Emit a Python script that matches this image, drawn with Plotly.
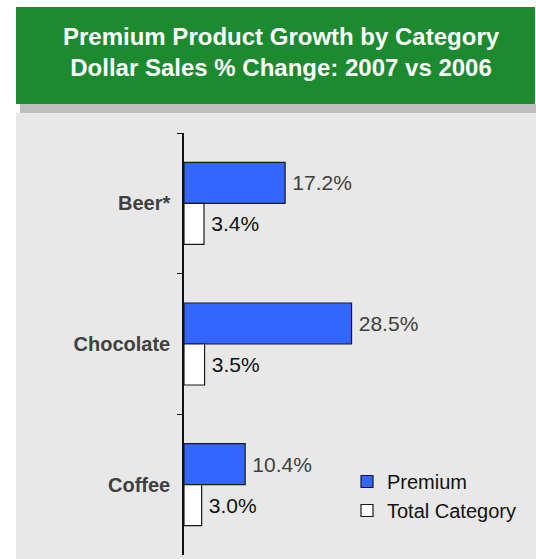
import plotly.graph_objects as go

W, H = 536, 559

categories = ["Beer*", "Chocolate", "Coffee"]
premium = [17.2, 28.5, 10.4]
total_category = [3.4, 3.5, 3.0]
premium_labels = ["17.2%", "28.5%", "10.4%"]
total_labels = ["3.4%", "3.5%", "3.0%"]
title_lines = ["Premium Product Growth by Category", "Dollar Sales % Change: 2007 vs 2006"]

FONT = "Arial, 'Liberation Sans', sans-serif"

def px(x):
    return x / W

def py(y):
    return 1 - y / H

fig = go.Figure()
fig.add_trace(go.Bar(
    y=categories, x=premium, orientation="h", name="Premium",
    marker=dict(color="#3366FF", line=dict(color="#1a1a1a", width=1.2)),
    text=premium_labels, texttemplate="\u2009%{text}", textposition="outside", cliponaxis=False,
    textfont=dict(family=FONT, size=21, color="#404040"),
))
fig.add_trace(go.Bar(
    y=categories, x=total_category, orientation="h", name="Total Category",
    marker=dict(color="#FFFFFF", line=dict(color="#1a1a1a", width=1.2)),
    text=total_labels, texttemplate="\u2009%{text}", textposition="outside", cliponaxis=False,
    textfont=dict(family=FONT, size=21, color="#111111"),
))

shapes = [
    dict(type="rect", xref="paper", yref="paper", x0=px(16), x1=1, y0=0, y1=py(113),
         fillcolor="#E8E8E8", line=dict(width=0), layer="below"),
    dict(type="rect", xref="paper", yref="paper", x0=px(20), x1=1, y0=py(113), y1=py(104),
         fillcolor="#BFBFBF", line=dict(width=0), layer="below"),
    dict(type="rect", xref="paper", yref="paper", x0=px(16), x1=px(535), y0=py(104), y1=py(7),
         fillcolor="#1C8A2F", line=dict(width=0), layer="below"),
]

fig.update_layout(
    width=W, height=H,
    margin=dict(l=0, r=0, t=0, b=0),
    paper_bgcolor="white",
    plot_bgcolor="rgba(0,0,0,0)",
    font=dict(family=FONT, color="#111111"),
    barmode="group",
    bargap=0.417,
    bargroupgap=0,
    shapes=shapes,
    showlegend=True,
    legend=dict(
        x=px(347), y=py(462), xanchor="left", yanchor="top",
        bgcolor="rgba(0,0,0,0)", font=dict(family=FONT, size=20, color="#111111"),
        tracegroupgap=0, itemwidth=30,
    ),
    annotations=[
        dict(xref="paper", yref="paper", x=px(281.5), y=py(52), xanchor="center", yanchor="middle",
             text="<br>".join(f"<b>{t}</b>" for t in title_lines), showarrow=False,
             font=dict(family=FONT, size=24, color="white"), align="center"),
    ],
    xaxis=dict(visible=False, range=[0, 59.7], domain=[px(184), px(535)]),
    yaxis=dict(
        type="category", range=[2.5, -0.5], domain=[py(555), py(133)],
        tickson="boundaries", ticks="outside", ticklen=5, tickwidth=1.2, tickcolor="#111111",
        showline=True, linecolor="#111111", linewidth=1.5, showgrid=False, zeroline=False,
        tickfont=dict(family=FONT, size=20, color="#404040", weight="bold"),
        ticklabelstandoff=8,
    ),
)

fig.write_html(
    "out.html",
    config={"displayModeBar": False},
    post_script="document.body.style.margin='0';document.body.style.overflow='hidden';",
)
